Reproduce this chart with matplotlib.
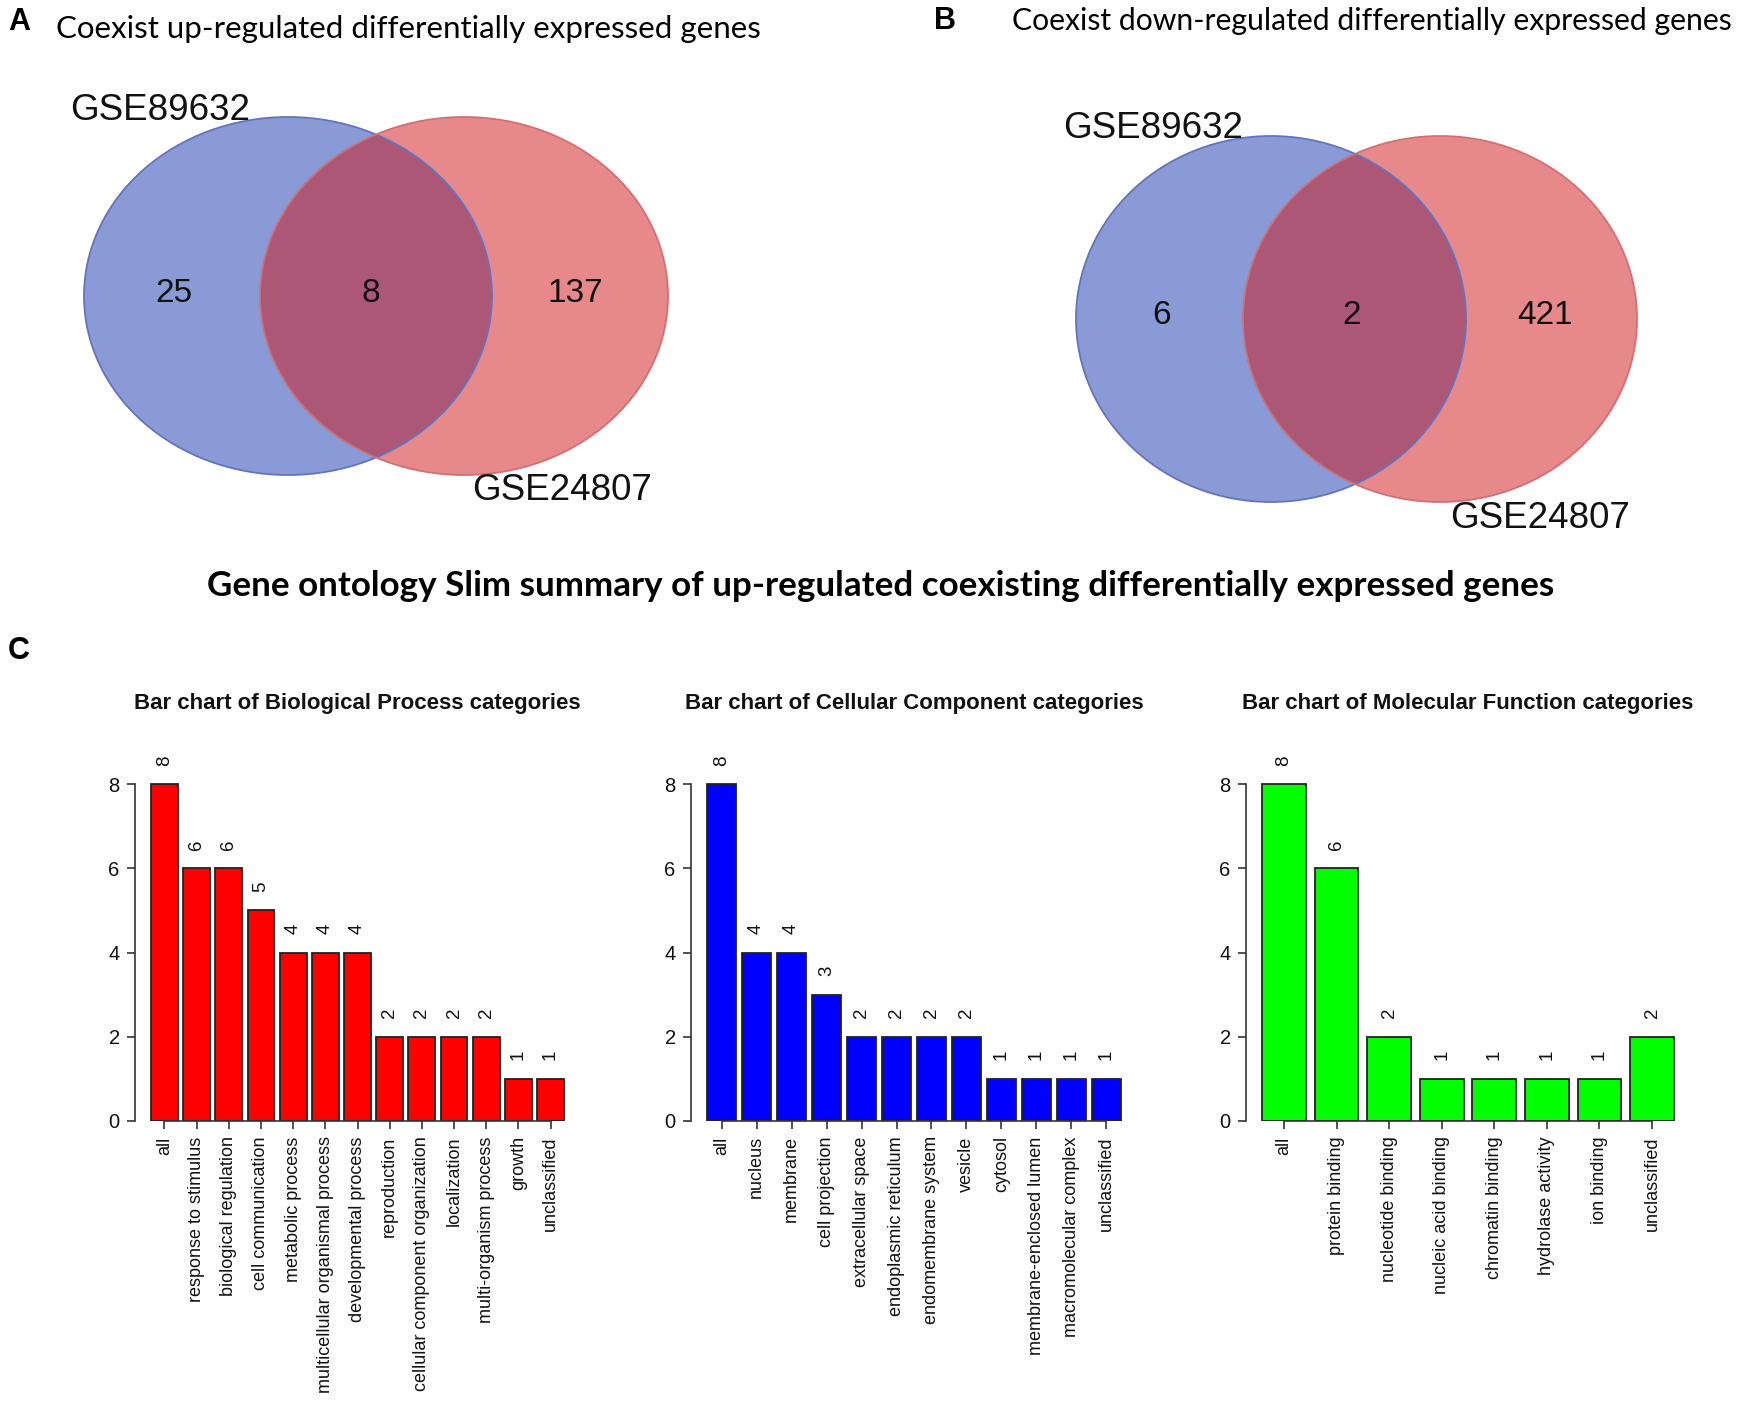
import matplotlib
matplotlib.use("Agg")
import matplotlib.pyplot as plt
from matplotlib.patches import Ellipse

# ---------------- data ----------------
venn_up_counts = [25, 8, 137]          # only GSE89632, both, only GSE24807
venn_down_counts = [6, 2, 421]
set_names = ["GSE89632", "GSE24807"]

bp_labels = ["all", "response to stimulus", "biological regulation", "cell communication",
             "metabolic process", "multicellular organismal process", "developmental process",
             "reproduction", "cellular component organization", "localization",
             "multi-organism process", "growth", "unclassified"]
bp_values = [8, 6, 6, 5, 4, 4, 4, 2, 2, 2, 2, 1, 1]

cc_labels = ["all", "nucleus", "membrane", "cell projection", "extracellular space",
             "endoplasmic reticulum", "endomembrane system", "vesicle", "cytosol",
             "membrane-enclosed lumen", "macromolecular complex", "unclassified"]
cc_values = [8, 4, 4, 3, 2, 2, 2, 2, 1, 1, 1, 1]

mf_labels = ["all", "protein binding", "nucleotide binding", "nucleic acid binding",
             "chromatin binding", "hydrolase activity", "ion binding", "unclassified"]
mf_values = [8, 6, 2, 1, 1, 1, 1, 2]

W, H = 1750, 1411
fig = plt.figure(figsize=(W / 100, H / 100), dpi=100)
fig.patch.set_facecolor("white")

def fx(px):
    return px / W

def fy(py):
    return 1 - py / H

# overlay axes in pixel coordinates for Venn diagrams and texts
ov = fig.add_axes([0, 0, 1, 1])
ov.set_xlim(0, W)
ov.set_ylim(H, 0)
ov.axis("off")

BLUE = (21 / 255, 55 / 255, 177 / 255)
RED = (209 / 255, 21 / 255, 25 / 255)
ARIAL = ["Liberation Sans", "DejaVu Sans"]
CALIBRI = ["Lato", "DejaVu Sans"]

def venn(cb, cr, rx, ry, counts, lab1, lab2, numpos):
    ov.add_patch(Ellipse(cb, 2 * rx[0], 2 * ry, facecolor=BLUE, alpha=0.5, edgecolor="none"))
    ov.add_patch(Ellipse(cr, 2 * rx[1], 2 * ry, facecolor=RED, alpha=0.5, edgecolor="none"))
    ov.add_patch(Ellipse(cb, 2 * rx[0], 2 * ry, facecolor="none", edgecolor="#6473bd", lw=1.3))
    ov.add_patch(Ellipse(cr, 2 * rx[1], 2 * ry, facecolor="none", edgecolor="#d07074", lw=1.3))
    for (x, y), c in zip(numpos, counts):
        ov.text(x, y, str(c), ha="center", va="center", fontsize=24, family=ARIAL, color="#111111")
    ov.text(lab1[0], lab1[1], set_names[0], ha="left", va="center", fontsize=26.5, family=ARIAL, color="#111111")
    ov.text(lab2[0], lab2[1], set_names[1], ha="left", va="center", fontsize=26.5, family=ARIAL, color="#111111")

venn((288, 296), (464, 296), (204, 204), 179, venn_up_counts,
     (70, 111), (472, 490), [(174, 293), (371, 293), (575, 293)])
venn((1271, 319), (1440, 319), (195, 197), 183, venn_down_counts,
     (1063, 129), (1450, 518), [(1162, 316), (1352, 316), (1545, 316)])

# panel letters and titles
ov.text(8, 22, "A", ha="left", va="center", fontsize=22, fontweight="bold", family=ARIAL)
ov.text(56, 29, "Coexist up-regulated differentially expressed genes", ha="left", va="center",
        fontsize=22.5, family=CALIBRI)
ov.text(934, 21, "B", ha="left", va="center", fontsize=22, fontweight="bold", family=ARIAL)
ov.text(1012, 21, "Coexist down-regulated differentially expressed genes", ha="left", va="center",
        fontsize=21.7, family=CALIBRI)
ov.text(881, 586, "Gene ontology Slim summary of up-regulated coexisting differentially expressed genes",
        ha="center", va="center", fontsize=25.2, fontweight="bold", family=CALIBRI)
ov.text(8, 651, "C", ha="left", va="center", fontsize=22, fontweight="bold", family=ARIAL)

# ---------------- bar charts ----------------
Y0, Y8 = 1121, 784
ppu = (Y0 - Y8) / 8.0
AX_TOP_VAL = 9.0
BW = 1 / 1.2
PAD = 16

def barchart(bar_left, bar_right, labels, values, color, title):
    n = len(values)
    sp = (bar_right - bar_left) / (n - 1 + BW)
    left_px = bar_left - PAD
    right_px = bar_right + PAD
    top_px = Y0 - AX_TOP_VAL * ppu
    ax = fig.add_axes([fx(left_px), fy(Y0), (right_px - left_px) / W, (Y0 - top_px) / H])
    ax.set_facecolor("none")
    xs = list(range(n))
    ax.bar(xs, values, width=BW, color=color, edgecolor="#222222", linewidth=1.3)
    ax.set_xlim(-BW / 2 - PAD / sp, n - 1 + BW / 2 + PAD / sp)
    ax.set_ylim(0, AX_TOP_VAL)
    for s in ["top", "right"]:
        ax.spines[s].set_visible(False)
    ax.spines["left"].set_bounds(0, 8)
    ax.spines["bottom"].set_bounds(0, n - 1)
    for s in ["left", "bottom"]:
        ax.spines[s].set_color("#333333")
        ax.spines[s].set_linewidth(1.2)
    ax.set_yticks([0, 2, 4, 6, 8])
    ax.set_xticks(xs)
    ax.set_xticklabels(labels, rotation=90, fontsize=13, family=ARIAL, color="#111111")
    ax.tick_params(axis="both", length=6, width=1.2, color="#333333", pad=5)
    for t in ax.get_yticklabels():
        t.set_fontsize(14.5)
        t.set_family(ARIAL)
        t.set_color("#111111")
    for x, v in zip(xs, values):
        ax.annotate(str(v), (x, v), xytext=(0, 17), textcoords="offset points",
                    rotation=90, ha="center", va="center", fontsize=13.5, family=ARIAL,
                    color="#111111", annotation_clip=False)
    ov.text((left_px + right_px) / 2, 703, title, ha="center", va="center",
            fontsize=16, fontweight="bold", family=ARIAL, color="#111111")
    return ax

barchart(151, 564, bp_labels, bp_values, "#ff0000", "Bar chart of Biological Process categories")
barchart(707, 1121, cc_labels, cc_values, "#0000ff", "Bar chart of Cellular Component categories")
barchart(1262, 1674, mf_labels, mf_values, "#00ff00", "Bar chart of Molecular Function categories")

fig.savefig("out.png", dpi=100, facecolor="white")
